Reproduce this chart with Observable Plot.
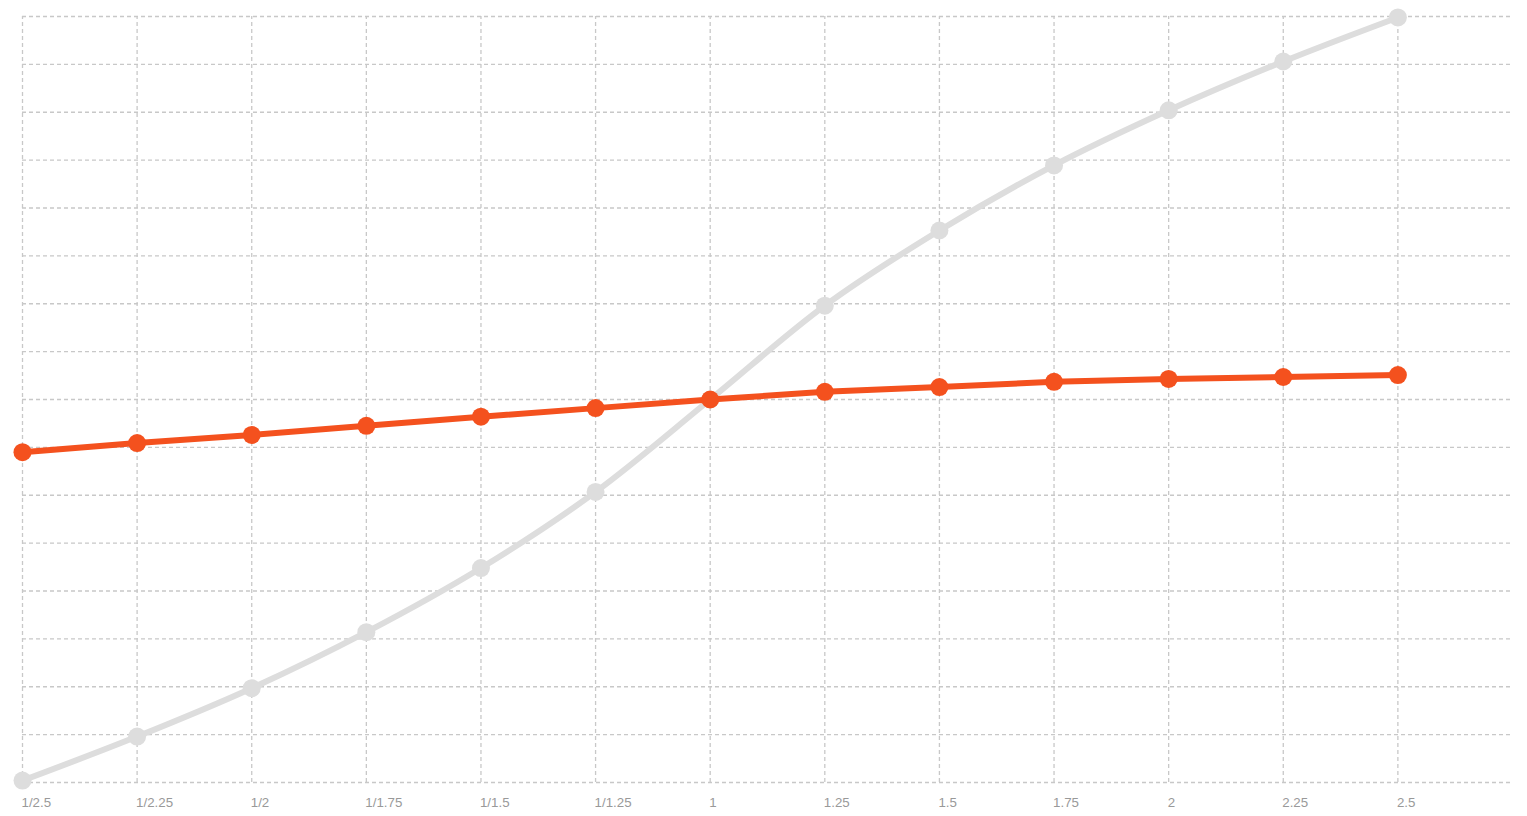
<!DOCTYPE html>
<html>
<head>
<meta charset="utf-8">
<script src="https://cdn.jsdelivr.net/npm/d3@7"></script>
<script src="https://cdn.jsdelivr.net/npm/@observablehq/plot@0.6"></script>
<style>
  html, body { margin: 0; padding: 0; background: #fff; }
  #chart svg { display: block; }
</style>
</head>
<body>
<div id="chart"></div>
<script>
const tickLabels = ["1/2.5", "1/2.25", "1/2", "1/1.75", "1/1.5", "1/1.25", "1", "1.25", "1.5", "1.75", "2", "2.25", "2.5"];
const greySeries = [0.04, 0.96, 1.97, 3.14, 4.48, 6.07, 8.0, 9.96, 11.53, 12.89, 14.04, 15.06, 15.98];
const orangeSeries = [6.9, 7.09, 7.26, 7.45, 7.64, 7.82, 8.0, 8.16, 8.26, 8.37, 8.43, 8.47, 8.51];
const yGrid = d3.range(0, 17);

const idx = tickLabels.map((_, i) => i);
const grey = idx.map(i => ({x: i, y: greySeries[i]}));
const orange = idx.map(i => ({x: i, y: orangeSeries[i]}));
const labels = idx.map(i => ({x: i, label: tickLabels[i]}));

const chart = Plot.plot({
  width: 1527,
  height: 816,
  marginTop: 0, marginBottom: 0, marginLeft: 0, marginRight: 0,
  x: {type: "linear", domain: [0, 13], range: [22, 1512], axis: null},
  y: {type: "linear", domain: [0, 16], range: [782, 16], axis: null},
  style: {fontFamily: "Helvetica, 'Liberation Sans', Arial, sans-serif", background: "#fff"},
  marks: [
    Plot.ruleY(yGrid, {y: d => d, x1: 0, x2: 13, stroke: "#c8c8c8", strokeWidth: 1.3, strokeDasharray: "4,3"}),
    Plot.ruleX(idx, {x: d => d, y1: 0, y2: 16, stroke: "#c8c8c8", strokeWidth: 1.3, strokeDasharray: "4,3"}),
    Plot.line(grey, {x: "x", y: "y", stroke: "#dddddd", strokeWidth: 6, curve: "monotone-x"}),
    Plot.dot(grey, {x: "x", y: "y", r: 9, fill: "#dddddd"}),
    Plot.line(orange, {x: "x", y: "y", stroke: "#f4511e", strokeWidth: 6, curve: "linear"}),
    Plot.dot(orange, {x: "x", y: "y", r: 9, fill: "#f4511e"}),
    Plot.text(labels, {x: "x", y: () => 0, text: "label", textAnchor: "start", dx: -1, dy: 20, fill: "#999999", fontSize: 13.3})
  ]
});
document.getElementById("chart").appendChild(chart);
</script>
</body>
</html>
